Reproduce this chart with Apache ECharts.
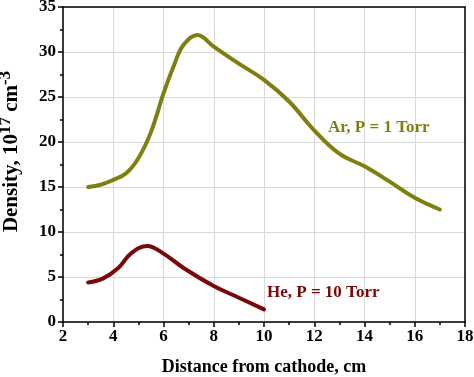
<!DOCTYPE html>
<html>
<head>
<meta charset="utf-8">
<script src="https://cdn.jsdelivr.net/npm/echarts@6/dist/echarts.min.js"></script>
<style>
  html, body { margin: 0; padding: 0; background: #fff; }
  #chart { width: 474px; height: 377px; }
</style>
</head>
<body>
<div id="chart"></div>
<script>
// values (x in cm, density in 1e17 cm^-3)
const arX = [3, 3.5, 4, 4.5, 5, 5.5, 6, 6.4, 6.8, 7.35, 8, 9, 10, 11, 12, 13, 14, 15, 16, 17];
const arY = [15.0, 15.25, 15.8, 16.5, 18.2, 21.1, 25.4, 28.4, 30.8, 31.9, 30.6, 28.7, 26.9, 24.5, 21.3, 18.7, 17.3, 15.6, 13.8, 12.5];
const heX = [3, 3.6, 4.2, 4.7, 5.35, 6, 6.8, 8, 9, 10];
const heY = [4.4, 4.85, 6.0, 7.6, 8.45, 7.6, 6.0, 4.0, 2.7, 1.4];

const arLabel = { text: "Ar, P = 1 Torr", x: 12.55, y: 21.6 };
const heLabel = { text: "He, P = 10 Torr", x: 10.12, y: 3.3 };

const colors = {
  ar: "#7f7f10",
  he: "#780707",
  axis: "#000",
  grid: "#d9d9d9",
};
const font = "'Liberation Serif', 'Times New Roman', serif";

const chart = echarts.init(document.getElementById("chart"), null, { renderer: "canvas" });

const pair = (xs, ys) => xs.map((x, i) => [x, ys[i]]);

const options = {
  animation: false,
  grid: { left: 63, right: 9, top: 7, bottom: 55, outerBoundsMode: "none", containLabel: false },
  xAxis: [
    {
      type: "value",
      min: 2,
      max: 18,
      interval: 2,
      name: "Distance from cathode, cm",
      nameLocation: "middle",
      nameGap: 36,
      nameTextStyle: { fontFamily: font, fontWeight: "bold", fontSize: 18, color: "#000" },
      axisLine: { lineStyle: { color: colors.axis, width: 1.5 } },
      axisTick: { inside: false, length: 5, lineStyle: { width: 1.5 } },
      minorTick: { show: true, splitNumber: 2, length: 3, lineStyle: { color: "#000", width: 1.5 } },
      axisLabel: { fontFamily: font, fontWeight: "bold", fontSize: 17, color: "#000", margin: 6 },
      splitLine: { show: true, lineStyle: { color: colors.grid, width: 1 } },
    },
    {
      type: "value",
      min: 2,
      max: 18,
      position: "top",
      axisLine: { onZero: false, lineStyle: { color: colors.axis, width: 1.5 } },
      axisTick: { show: false },
      axisLabel: { show: false },
      splitLine: { show: false },
    },
  ],
  yAxis: [
    {
      type: "value",
      min: 0,
      max: 35,
      interval: 5,
      name: "{t|Density, 10}{s|17}{t| cm}{s|-3}",
      nameLocation: "middle",
      nameGap: 36,
      nameTextStyle: {
        padding: [0, 0, 0, 26],
        rich: {
          t: { fontFamily: font, fontWeight: "bold", fontSize: 21, color: "#000" },
          s: { fontFamily: font, fontWeight: "bold", fontSize: 17, color: "#000", padding: [0, 0, 13, 0] },
        },
      },
      axisLine: { show: true, lineStyle: { color: colors.axis, width: 1.5 } },
      axisTick: { show: true, inside: false, length: 5, lineStyle: { width: 1.5 } },
      minorTick: { show: true, splitNumber: 2, length: 3, lineStyle: { color: "#000", width: 1.5 } },
      axisLabel: { fontFamily: font, fontWeight: "bold", fontSize: 17, color: "#000", margin: 7 },
      splitLine: { show: true, lineStyle: { color: colors.grid, width: 1 } },
    },
    {
      type: "value",
      min: 0,
      max: 35,
      position: "right",
      axisLine: { show: true, onZero: false, lineStyle: { color: colors.axis, width: 1.5 } },
      axisTick: { show: false },
      axisLabel: { show: false },
      splitLine: { show: false },
    },
  ],
  series: [
    {
      name: "Ar",
      type: "line",
      data: pair(arX, arY),
      smooth: 0.4,
      symbol: "none",
      lineStyle: { color: colors.ar, width: 4, cap: "round" },
      markPoint: {
        symbol: "circle",
        symbolSize: 0,
        data: [{ coord: [arLabel.x, arLabel.y] }],
        label: {
          show: true,
          position: "right",
          distance: 0,
          formatter: arLabel.text,
          fontFamily: font,
          fontWeight: "bold",
          fontSize: 17,
          color: colors.ar,
        },
      },
    },
    {
      name: "He",
      type: "line",
      data: pair(heX, heY),
      smooth: 0.4,
      symbol: "none",
      lineStyle: { color: colors.he, width: 4, cap: "round" },
      markPoint: {
        symbol: "circle",
        symbolSize: 0,
        data: [{ coord: [heLabel.x, heLabel.y] }],
        label: {
          show: true,
          position: "right",
          distance: 0,
          formatter: heLabel.text,
          fontFamily: font,
          fontWeight: "bold",
          fontSize: 17,
          color: colors.he,
        },
      },
    },
  ],
};

chart.setOption(options);
</script>
</body>
</html>
